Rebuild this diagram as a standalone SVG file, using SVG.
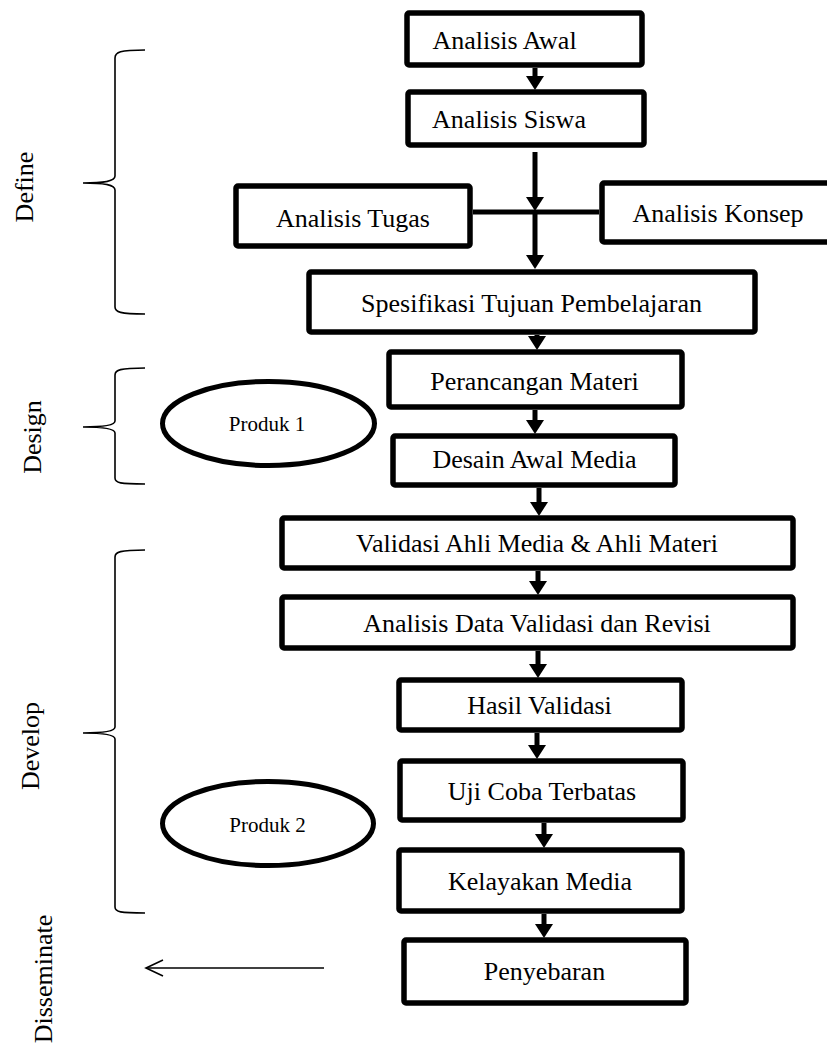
<svg xmlns="http://www.w3.org/2000/svg" width="827" height="1045" viewBox="0 0 827 1045">
<style>
.box{fill:#fff;stroke:#000;stroke-width:5.5}
.ell{fill:#fff;stroke:#000;stroke-width:5}
.t{font-family:"Liberation Serif","Times New Roman",serif;font-size:26px;fill:#000}
.tm{text-anchor:middle}
.ps{font-family:"Liberation Serif","Times New Roman",serif;font-size:21px;fill:#000;text-anchor:middle}
.conn{stroke:#000;stroke-width:5;fill:none}
.brace{stroke:#000;stroke-width:1.6;fill:none}
.thin{stroke:#000;stroke-width:1.6;fill:none}
</style>
<defs>
<marker id="ah" markerUnits="userSpaceOnUse" markerWidth="14" markerHeight="18" refX="5" refY="9" orient="auto">
<path d="M0,0 L14,9 L0,18 z" fill="#000"/>
</marker>
</defs>

<g id="braces">
<path class="brace" d="M145,50 C120,50 115,52 115,58 L115,176 C115,181 105,183 83,183 C105,183 115,185 115,190 L115,307 C115,312 120,314 145,314"/>
<path class="brace" d="M145,368 C120,368 115,370 115,375 L115,421 C115,425 105,427 83,427 C105,427 115,429 115,433 L115,478 C115,483 120,484 145,484"/>
<path class="brace" d="M145,550 C120,550 115,552 115,557 L115,727 C115,731 105,733 83,733 C105,733 115,735 115,739 L115,907 C115,912 120,913 145,913"/>
</g>

<g id="phase-labels">
<text class="t tm" transform="translate(33,187) rotate(-90)">Define</text>
<text class="t tm" transform="translate(41,437) rotate(-90)">Design</text>
<text class="t tm" transform="translate(39,746) rotate(-90)">Develop</text>
<text class="t tm" transform="translate(52,979) rotate(-90)">Disseminate</text>
</g>

<g id="connectors">
<line class="conn" x1="535" y1="68" x2="535" y2="81" marker-end="url(#ah)"/>
<line class="conn" x1="535" y1="152" x2="535" y2="202" marker-end="url(#ah)"/>
<line class="conn" x1="473" y1="212" x2="599" y2="212"/>
<line class="conn" x1="535" y1="212" x2="535" y2="260" marker-end="url(#ah)"/>
<line class="conn" x1="537" y1="335" x2="537" y2="341" marker-end="url(#ah)"/>
<line class="conn" x1="535" y1="410" x2="535" y2="425" marker-end="url(#ah)"/>
<line class="conn" x1="539" y1="488" x2="539" y2="507" marker-end="url(#ah)"/>
<line class="conn" x1="538" y1="571" x2="538" y2="586" marker-end="url(#ah)"/>
<line class="conn" x1="538" y1="651" x2="538" y2="669" marker-end="url(#ah)"/>
<line class="conn" x1="537" y1="733" x2="537" y2="750" marker-end="url(#ah)"/>
<line class="conn" x1="544" y1="823" x2="544" y2="839" marker-end="url(#ah)"/>
<line class="conn" x1="544" y1="914" x2="544" y2="929" marker-end="url(#ah)"/>
<line class="thin" x1="324" y1="968" x2="146" y2="968"/>
<path class="thin" d="M163,960 L146,968 L163,976"/>
</g>

<g id="n-awal"><rect class="box" x="407" y="13" width="235" height="52" rx="2"/><text class="t tm" x="504.5" y="49">Analisis Awal</text></g>
<g id="n-siswa"><rect class="box" x="408" y="92" width="236" height="53" rx="2"/><text class="t tm" x="509" y="128">Analisis Siswa</text></g>
<g id="n-tugas"><rect class="box" x="236" y="186" width="234" height="60" rx="2"/><text class="t tm" x="353" y="227">Analisis Tugas</text></g>
<g id="n-konsep"><rect class="box" x="602" y="183" width="235" height="59" rx="2"/><text class="t tm" x="718" y="222">Analisis Konsep</text></g>
<g id="n-spesifikasi"><rect class="box" x="309" y="272" width="446" height="60" rx="2"/><text class="t tm" x="531.5" y="312">Spesifikasi Tujuan Pembelajaran</text></g>
<g id="n-perancangan"><rect class="box" x="389" y="352" width="293" height="55" rx="2"/><text class="t tm" x="534.5" y="390">Perancangan Materi</text></g>
<g id="n-desain"><rect class="box" x="393" y="436" width="282" height="49" rx="2"/><text class="t tm" x="534.5" y="468">Desain Awal Media</text></g>
<g id="n-validasi"><rect class="box" x="282" y="518" width="511" height="50" rx="2"/><text class="t tm" x="537" y="552">Validasi Ahli Media &amp; Ahli Materi</text></g>
<g id="n-analisis-data"><rect class="box" x="282" y="597" width="511" height="51" rx="2"/><text class="t tm" x="537" y="632">Analisis Data Validasi dan Revisi</text></g>
<g id="n-hasil"><rect class="box" x="399" y="680" width="283" height="50" rx="2"/><text class="t tm" x="539.5" y="714">Hasil Validasi</text></g>
<g id="n-uji"><rect class="box" x="400" y="761" width="283" height="59" rx="2"/><text class="t tm" x="542" y="800">Uji Coba Terbatas</text></g>
<g id="n-kelayakan"><rect class="box" x="399" y="850" width="283" height="61" rx="2"/><text class="t tm" x="540" y="890">Kelayakan Media</text></g>
<g id="n-penyebaran"><rect class="box" x="404" y="940" width="282" height="63" rx="2"/><text class="t tm" x="544.5" y="980">Penyebaran</text></g>
<g id="n-produk1"><ellipse class="ell" cx="268.5" cy="423.5" rx="106" ry="42"/><text class="ps" x="267" y="431">Produk 1</text></g>
<g id="n-produk2"><ellipse class="ell" cx="268" cy="823.5" rx="105.5" ry="42"/><text class="ps" x="267.5" y="832">Produk 2</text></g>
</svg>
